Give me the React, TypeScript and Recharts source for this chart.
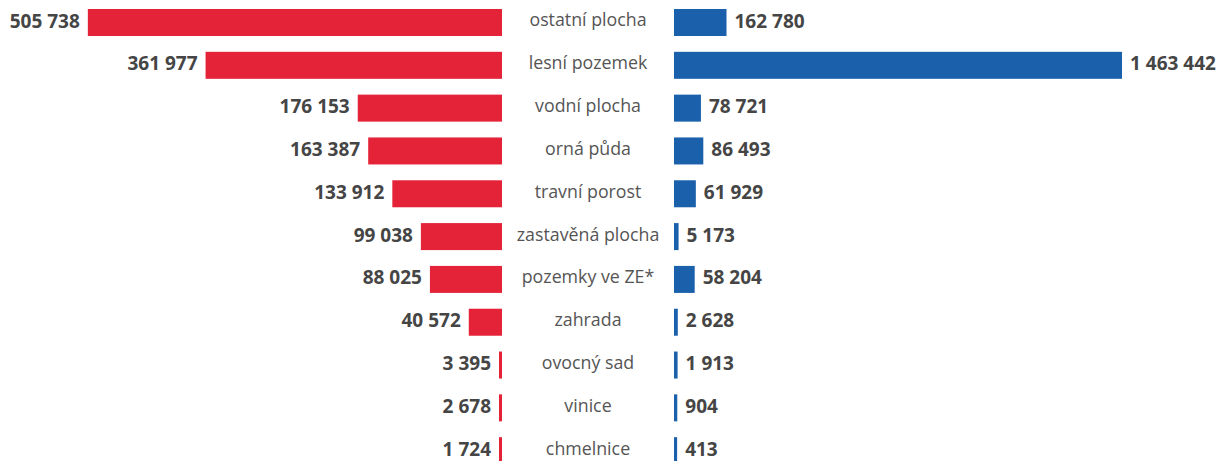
import { BarChart, Bar, XAxis, YAxis, LabelList } from 'recharts';

const categories = [
  'ostatní plocha',
  'lesní pozemek',
  'vodní plocha',
  'orná půda',
  'travní porost',
  'zastavěná plocha',
  'pozemky ve ZE*',
  'zahrada',
  'ovocný sad',
  'vinice',
  'chmelnice',
];
const leftValues = [505738, 361977, 176153, 163387, 133912, 99038, 88025, 40572, 3395, 2678, 1724];
const rightValues = [162780, 1463442, 78721, 86493, 61929, 5173, 58204, 2628, 1913, 904, 413];

const data = categories.map((name, i) => ({ name, left: leftValues[i], right: rightValues[i] }));

const RED = '#e42338';
const BLUE = '#1b60ab';
const FONT = '"Open Sans", sans-serif';

const fmt = (v: number) => v.toLocaleString('en-US').replace(/,/g, ' ');

// red bars grow leftwards; keep a thin sliver visible for tiny values
const LeftShape = (p: any) => {
  const x0 = Math.min(p.x, p.x + p.width);
  const x1 = Math.max(p.x, p.x + p.width);
  const w = Math.max(x1 - x0, 3);
  return <rect x={x1 - w} y={p.y} width={w} height={p.height} fill={RED} />;
};

const RightShape = (p: any) => (
  <rect x={p.x} y={p.y} width={Math.abs(p.width) + 3} height={p.height} fill={BLUE} />
);

const LeftLabel = (p: any) => {
  const x0 = Math.min(p.x, p.x + p.width);
  const x1 = Math.max(p.x, p.x + p.width);
  const edge = Math.min(x0, x1 - 3);
  return (
    <text x={edge - 8} y={p.y + p.height / 2} dy={5} textAnchor="end" fontFamily={FONT} fontWeight={700} fontSize={19} fill="#454545">
      {fmt(p.value)}
    </text>
  );
};

const RightLabel = (p: any) => (
  <text x={p.x + Math.abs(p.width) + 3 + 8} y={p.y + p.height / 2} dy={5} textAnchor="start" fontFamily={FONT} fontWeight={700} fontSize={19} fill="#454545">
    {fmt(p.value)}
  </text>
);

const CategoryTick = (p: any) => (
  <text x={588} y={p.y} dy={4} textAnchor="middle" fontFamily={FONT} fontSize={17.8} fill="#555">
    {p.payload.value}
  </text>
);

export default function App() {
  return (
    <div style={{ position: 'absolute', left: 0, top: 0, width: 1218, height: 461, overflow: 'hidden', background: '#fff' }}>
      <div style={{ position: 'absolute', left: 0, top: 0 }}>
        <BarChart layout="vertical" width={674} height={472} data={data} margin={{ top: 1, right: 0, bottom: 0, left: 0 }}>
          <XAxis type="number" reversed domain={[0, 613000]} hide />
          <YAxis type="category" dataKey="name" orientation="right" width={172} axisLine={false} tickLine={false} tick={<CategoryTick />} interval={0} />
          <Bar dataKey="left" barSize={27} isAnimationActive={false} shape={<LeftShape />}>
            <LabelList dataKey="left" content={<LeftLabel />} />
          </Bar>
        </BarChart>
      </div>
      <div style={{ position: 'absolute', left: 674, top: 0 }}>
        <BarChart layout="vertical" width={544} height={472} data={data} margin={{ top: 1, right: 0, bottom: 0, left: 0 }}>
          <XAxis type="number" domain={[0, 1789000]} hide />
          <YAxis type="category" dataKey="name" hide />
          <Bar dataKey="right" barSize={27} isAnimationActive={false} shape={<RightShape />}>
            <LabelList dataKey="right" content={<RightLabel />} />
          </Bar>
        </BarChart>
      </div>
    </div>
  );
}
